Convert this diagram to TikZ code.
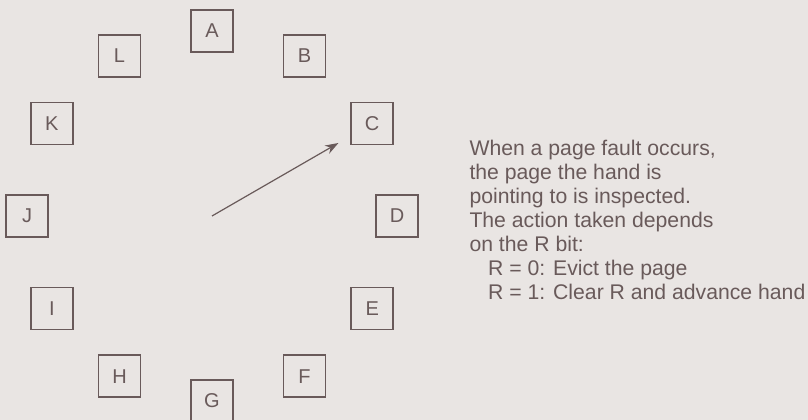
\documentclass[tikz,border=0pt]{standalone}
\usepackage{fontspec}
\setmainfont{Liberation Sans}
\usetikzlibrary{arrows.meta,calc}
\definecolor{paper}{RGB}{233,229,227}
\definecolor{ink}{RGB}{105,90,90}
\tikzset{every picture/.style={line width=0.75pt}}
\tikzset{pagebox/.style={draw=ink,line width=1.1pt,minimum size=31.5pt,inner sep=0pt,text=ink,font=\fontsize{15}{18}\selectfont}}

\begin{document}
\begin{tikzpicture}[x=0.75pt,y=0.75pt]
    % 背景
    \fill[paper] (0,0) rectangle (808,420);
    \useasboundingbox (0,0) rectangle (808,420);
    % 钟面上的页框
    \coordinate (hub) at (212,204);
    \foreach \p [count=\i from 0] in {A,B,C,D,E,F,G,H,I,J,K,L}
        \node[pagebox] (\p) at ($(hub)+({90-30*\i}:185)$) {\p};
    % 指针
    \coordinate (tip) at ($(hub)+(30:146)$);
    \draw[ink,line width=0.9pt,-{Stealth[length=10pt,width=7pt]}] (hub) -- (tip);
    % 说明
    \node[anchor=base west,inner sep=0pt,align=left,text=ink,font=\fontsize{15.9}{18}\selectfont] (note) at (469,120)
        {When a page fault occurs,\\the page the hand is\\pointing to is inspected.\\The action taken depends\\on the R bit:\\
         \hspace*{14pt}R = 0: Evict the page\\\hspace*{14pt}R = 1: Clear R and advance hand};
\end{tikzpicture}
\end{document}
